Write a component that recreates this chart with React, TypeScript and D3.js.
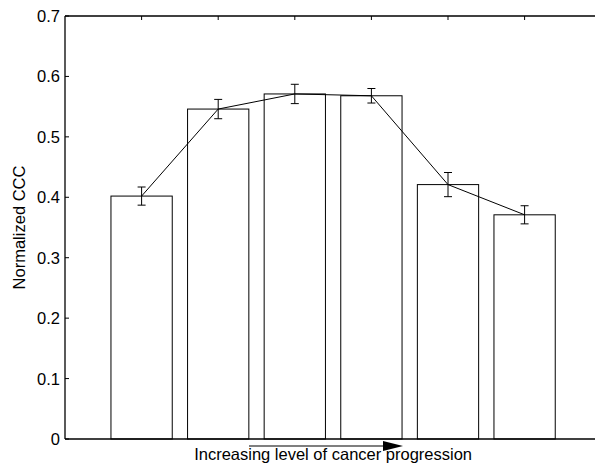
import React from "react";
import * as d3 from "d3";

const stages = [1, 2, 3, 4, 5, 6];
const cccValues = [0.402, 0.546, 0.571, 0.568, 0.421, 0.371];
const cccErrors = [0.015, 0.016, 0.016, 0.012, 0.02, 0.015];
const yTicks = [0, 0.1, 0.2, 0.3, 0.4, 0.5, 0.6, 0.7];

export default function App() {
  const width = 595;
  const height = 464;
  const left = 65;
  const top = 16;
  const bottom = 439;
  const unit = 76.6;

  const x = d3.scaleLinear().domain([0, 7]).range([left, left + 7 * unit]);
  const y = d3.scaleLinear().domain([0, 0.7]).range([bottom, top]);
  const barW = x(0.8) - x(0);
  const font = "'Liberation Sans', Arial, Helvetica, sans-serif";
  const fs = 16.5;

  const line = d3
    .line<number>()
    .x((_, i) => x(stages[i]))
    .y((d) => y(d));

  return (
    <svg
      width={width}
      height={height}
      style={{ position: "absolute", left: 0, top: 0, background: "#fff" }}
    >
      {/* bars */}
      {cccValues.map((v, i) => (
        <rect
          key={i}
          x={x(stages[i]) - barW / 2}
          y={y(v)}
          width={barW}
          height={y(0) - y(v)}
          fill="#fff"
          stroke="#000"
          strokeWidth={1}
        />
      ))}

      {/* connecting line */}
      <path d={line(cccValues) || ""} fill="none" stroke="#000" strokeWidth={1} />

      {/* error bars */}
      {cccValues.map((v, i) => {
        const cx = x(stages[i]);
        const y1 = y(v + cccErrors[i]);
        const y2 = y(v - cccErrors[i]);
        return (
          <g key={i} stroke="#000" strokeWidth={1}>
            <line x1={cx} x2={cx} y1={y1} y2={y2} />
            <line x1={cx - 4} x2={cx + 4} y1={y1} y2={y1} />
            <line x1={cx - 4} x2={cx + 4} y1={y2} y2={y2} />
          </g>
        );
      })}

      {/* axes box */}
      <line x1={left} x2={width} y1={top} y2={top} stroke="#000" strokeWidth={1.3} />
      <line x1={left} x2={width} y1={bottom} y2={bottom} stroke="#000" strokeWidth={1.3} />
      <line x1={left} x2={left} y1={top} y2={bottom} stroke="#000" strokeWidth={1.3} />

      {/* top ticks */}
      {stages.map((s) => (
        <line key={s} x1={x(s)} x2={x(s)} y1={top} y2={top + 4} stroke="#000" strokeWidth={1} />
      ))}

      {/* y ticks */}
      {yTicks.map((t) => (
        <g key={t}>
          <line x1={left} x2={left + 4} y1={y(t)} y2={y(t)} stroke="#000" strokeWidth={1} />
          <text
            x={left - 5}
            y={y(t)}
            dy="0.36em"
            textAnchor="end"
            fontFamily={font}
            fontSize={fs}
            fill="#000"
          >
            {t === 0 ? "0" : d3.format(".1f")(t)}
          </text>
        </g>
      ))}

      {/* y label */}
      <text
        transform={`translate(25,${(top + bottom) / 2}) rotate(-90)`}
        textAnchor="middle"
        fontFamily={font}
        fontSize={fs}
        fill="#000"
      >
        Normalized CCC
      </text>

      {/* x label */}
      <text
        x={x(3.5)}
        y={460}
        textAnchor="middle"
        fontFamily={font}
        fontSize={fs}
        fill="#000"
      >
        Increasing level of cancer progression
      </text>

      {/* arrow */}
      <line x1={249} x2={385} y1={446} y2={446} stroke="#000" strokeWidth={1.2} />
      <path d="M383,441 L403,446 L383,451 Z" fill="#000" />
    </svg>
  );
}
